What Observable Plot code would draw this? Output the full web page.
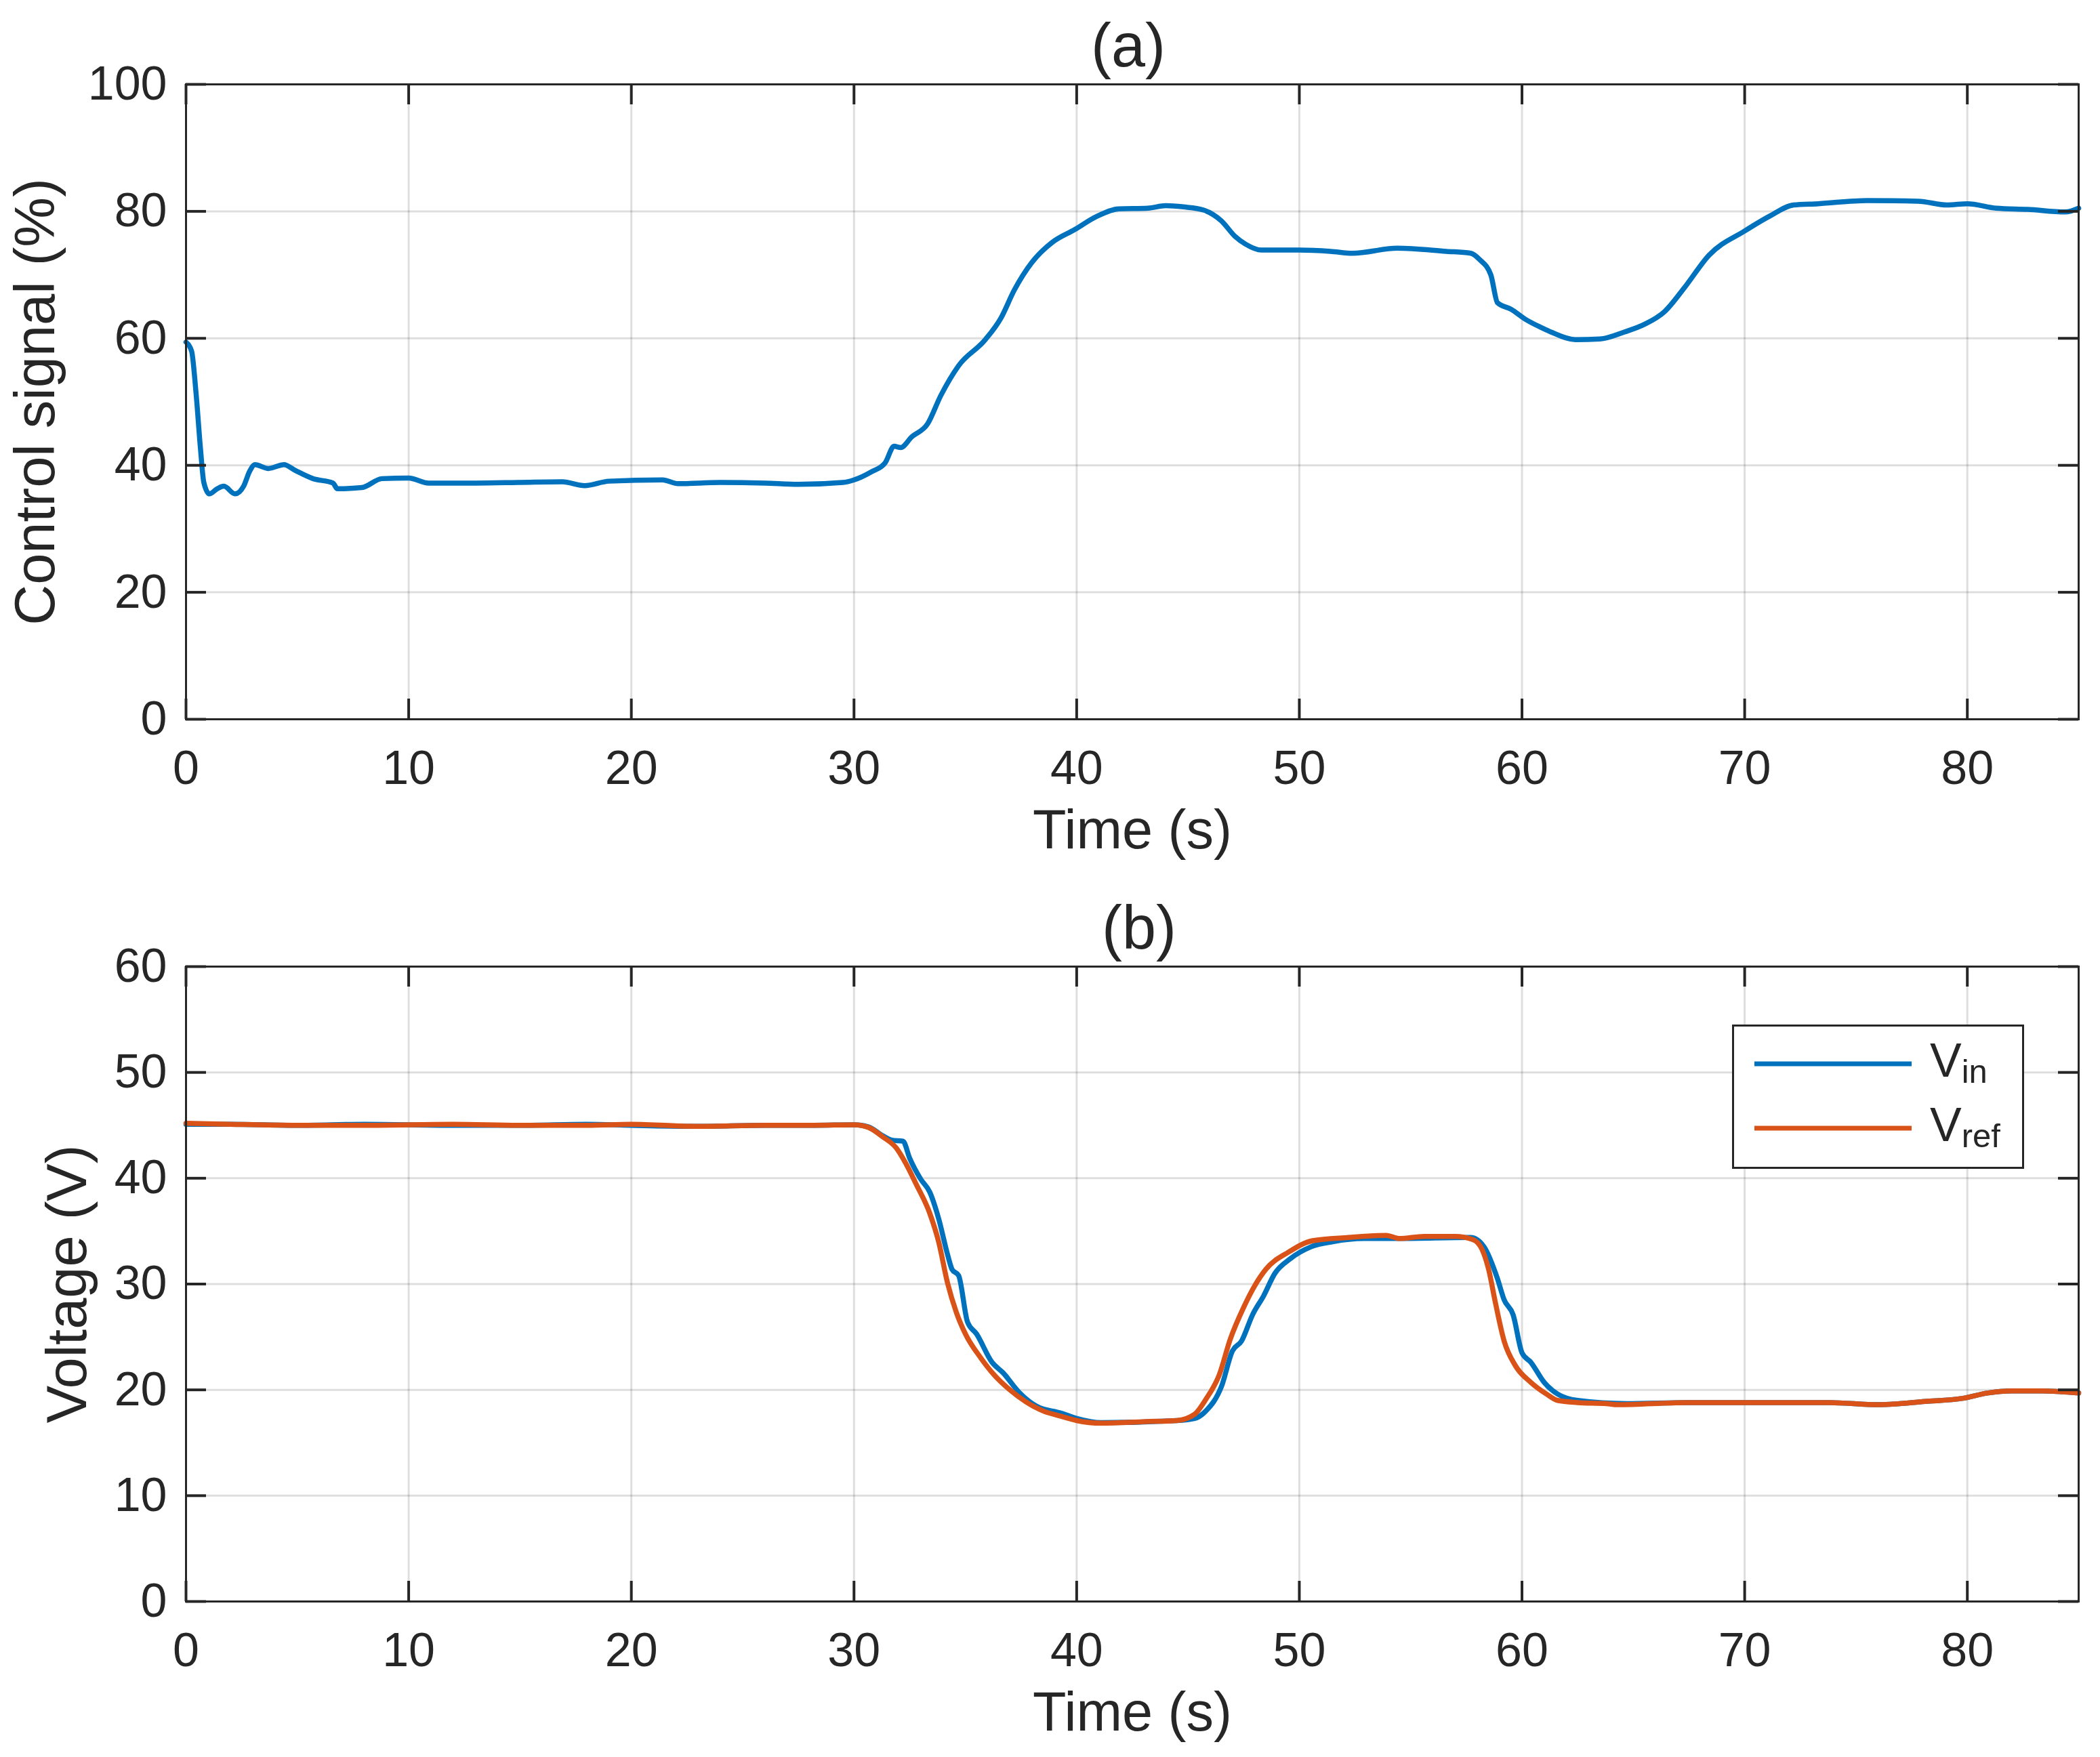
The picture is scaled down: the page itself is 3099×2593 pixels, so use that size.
<!DOCTYPE html>
<html><head><meta charset="utf-8">
<script src="https://cdn.jsdelivr.net/npm/d3@7"></script>
<script src="https://cdn.jsdelivr.net/npm/@observablehq/plot@0.6"></script>
<style>
html,body{margin:0;padding:0;background:#fff;}
#wrap{position:relative;width:3099px;height:2593px;overflow:hidden;background:#fff;font-family:"Liberation Sans",Arial,sans-serif;}
#pa,#pb{position:absolute;left:0;}
#pa{top:0;}
#pb{top:1300px;}
#legend{position:absolute;left:2556px;top:1512px;width:431px;height:213px;box-sizing:border-box;border:3px solid #262626;background:#fff;}
svg{display:block;}
</style></head><body>
<div id="wrap"><div id="pa"></div><div id="pb"></div><div id="legend"></div></div>
<script>
// ---- tick labels ----
const xTicks = [0, 10, 20, 30, 40, 50, 60, 70, 80];
const yTicksA = [0, 20, 40, 60, 80, 100];
const yTicksB = [0, 10, 20, 30, 40, 50, 60];

// ---- (a) control signal (%) : [time s, value] ----
const controlSignal = [
  [0,59.4],[0.25,58.0],[0.45,51.4],[0.65,42.6],[0.8,37.3],[1.05,35.5],[1.4,36.3],[1.7,36.7],[2.2,35.5],[2.6,36.8],
  [2.85,39.0],[3.1,40.1],[3.7,39.5],[4.4,40.1],[4.9,39.2],[5.7,37.9],[6.6,37.2],[6.8,36.3],[7.9,36.5],[8.8,37.9],
  [10,38.0],[10.9,37.2],[13,37.2],[15,37.3],[16.9,37.4],[17.9,36.8],[19,37.5],[21.4,37.7],[22.1,37.1],[24,37.3],
  [26,37.2],[27.5,37.0],[29.5,37.3],[30,37.7],[30.8,39.0],[31.4,40.4],[31.8,43.0],[32.1,42.8],[32.6,44.5],[33.3,46.5],
  [33.9,51.0],[34.7,55.7],[35.9,59.8],[36.6,63.2],[37.2,67.6],[38.0,72.0],[38.9,75.1],[39.9,77.1],[40.9,79.2],[41.9,80.4],
  [43.2,80.5],[44.0,80.9],[44.8,80.7],[45.7,80.2],[46.5,78.5],[47.1,76.1],[47.6,74.8],[48.3,73.9],[50,73.9],[51.4,73.7],
  [52.4,73.4],[54.4,74.2],[56.6,73.7],[57.7,73.4],[58.1,72.4],[58.6,70.0],[58.9,65.6],[59.5,64.6],[60.2,62.9],[60.8,61.8],
  [61.3,61.0],[62.4,59.8],[63.5,59.9],[64.6,61.0],[65.5,62.2],[66.4,64.2],[67.3,68.0],[68.4,73.1],[70.0,76.9],[71.1,79.2],
  [72.2,81.0],[73.3,81.2],[75.5,81.7],[77.8,81.6],[79.1,81.0],[80.0,81.2],[81.3,80.5],[82.7,80.3],[84.4,79.9],[85,80.5]
];

// ---- (b) voltages (V) : [time s, value] ----
const vin = [
  [0,45.1],[2,45.1],[5,45.0],[8,45.1],[12,45.0],[15,45.0],[18,45.1],[20,45.0],[23,44.9],[26,45.0],
  [28.2,45.0],[30,45.05],[30.65,44.85],[31.3,44.0],[31.7,43.6],[32.2,43.5],[32.5,41.9],[33.0,39.9],[33.4,38.7],[33.8,36.2],
  [34.2,32.8],[34.4,31.4],[34.7,30.8],[35.1,26.4],[35.5,25.3],[36.2,22.6],[36.7,21.6],[37.4,19.8],[38.2,18.45],[39.3,17.8],
  [40.0,17.3],[41.1,16.9],[44.5,17.1],[45.3,17.3],[45.8,18.0],[46.5,20.3],[47.0,23.7],[47.4,24.6],[47.9,27.1],[48.4,28.9],
  [48.9,31.0],[49.6,32.4],[50.5,33.5],[51.5,34.0],[52.9,34.3],[54.5,34.3],[57.7,34.4],[58.3,33.5],[58.9,30.5],[59.2,28.5],
  [59.6,27.1],[60.0,23.5],[60.4,22.6],[61.0,20.7],[61.6,19.6],[62.5,19.0],[64.7,18.7],[67.4,18.8],[70.6,18.8],[73.8,18.8],
  [76.0,18.6],[78.1,18.9],[79.8,19.2],[80.9,19.7],[82.0,19.9],[83.4,19.9],[85,19.7]
];
const vref = [
  [0,45.2],[2,45.1],[5,45.0],[8,45.0],[12,45.1],[15,45.0],[18,45.0],[20,45.1],[23,44.9],[26,45.0],
  [28.2,45.0],[30,45.05],[30.65,44.8],[31.3,43.9],[31.9,42.85],[32.3,41.5],[32.8,39.4],[33.4,36.7],[33.8,34.0],[34.2,30.1],
  [34.6,27.3],[35.0,25.3],[35.7,23.0],[36.3,21.4],[37.0,20.0],[37.7,18.9],[38.5,18.0],[39.3,17.5],[40.0,17.1],[41.1,16.85],
  [43.1,17.0],[44.5,17.1],[45.3,17.7],[45.8,19.1],[46.4,21.4],[46.9,24.8],[47.5,27.8],[48.0,29.85],[48.5,31.4],[49.5,33.0],
  [50.6,34.1],[52.2,34.4],[53.9,34.6],[54.5,34.3],[55.6,34.5],[57.0,34.5],[57.8,34.2],[58.2,33.3],[58.5,31.4],[58.8,28.3],
  [59.2,24.6],[59.7,22.3],[60.4,20.7],[61.1,19.6],[61.6,19.0],[62.5,18.8],[63.8,18.7],[64.3,18.6],[67.4,18.8],[70.6,18.8],
  [73.8,18.8],[76.0,18.6],[78.1,18.9],[79.8,19.2],[80.9,19.7],[82.0,19.9],[83.4,19.9],[85,19.7]
];

const BLUE = "#0072BD", ORANGE = "#D95319", INK = "#262626";
const legendItems = [
  {base: "V", sub: "in", color: BLUE},
  {base: "V", sub: "ref", color: ORANGE}
];

const W = 3099, ML = 274, MR = 32, TK = 30;
const FONT = '"Liberation Sans", Arial, Helvetica, sans-serif';

function panel({height, mt, mb, yDomain, yTicks, series, title, titleDx, yLabel, yLabelDx}) {
  const fw = W - ML - MR, fh = height - mt - mb;
  return Plot.plot({
    width: W, height,
    marginLeft: ML, marginRight: MR, marginTop: mt, marginBottom: mb,
    style: {fontFamily: FONT, color: INK, background: "#fff", overflow: "visible"},
    x: {domain: [0, 85]},
    y: {domain: yDomain},
    marks: [
      Plot.gridX(xTicks, {stroke: "#000", strokeOpacity: 0.13, strokeWidth: 3}),
      Plot.gridY(yTicks, {stroke: "#000", strokeOpacity: 0.13, strokeWidth: 3}),
      ...series.map(s => Plot.line(s.data, {x: d => d[0], y: d => d[1], stroke: s.color, strokeWidth: 7.5, curve: "monotone-x"})),
      Plot.tickX(xTicks, {x: d => d, insetTop: fh - TK, stroke: INK, strokeWidth: 4}),
      Plot.tickX(xTicks, {x: d => d, insetBottom: fh - TK, stroke: INK, strokeWidth: 4}),
      Plot.tickY(yTicks, {y: d => d, insetRight: fw - TK, stroke: INK, strokeWidth: 4}),
      Plot.tickY(yTicks, {y: d => d, insetLeft: fw - TK, stroke: INK, strokeWidth: 4}),
      Plot.frame({stroke: INK, strokeWidth: 3}),
      Plot.axisX({ticks: xTicks, tickSize: 0, tickPadding: 46, fontSize: 70, label: null}),
      Plot.axisY({ticks: yTicks, tickSize: 0, tickPadding: 28, fontSize: 70, label: null}),
      Plot.text([title], {text: d => d, frameAnchor: "top", dx: titleDx, dy: -27, lineAnchor: "bottom", textAnchor: "middle", fontSize: 90, fill: INK}),
      Plot.text(["Time (s)"], {text: d => d, frameAnchor: "bottom", dy: 133, lineAnchor: "top", textAnchor: "middle", fontSize: 81, fill: INK}),
      Plot.text([yLabel], {text: d => d, frameAnchor: "left", dx: yLabelDx, rotate: -90, lineAnchor: "middle", textAnchor: "middle", fontSize: 83, fill: INK})
    ]
  });
}

document.getElementById("pa").appendChild(panel({
  height: 1300, mt: 124, mb: 239, yDomain: [0, 100], yTicks: yTicksA,
  series: [{data: controlSignal, color: BLUE}],
  title: "(a)", titleDx: -6, yLabel: "Control signal (%)", yLabelDx: -221
}));
document.getElementById("pb").appendChild(panel({
  height: 1293, mt: 126, mb: 230, yDomain: [0, 60], yTicks: yTicksB,
  series: [{data: vin, color: BLUE}, {data: vref, color: ORANGE}],
  title: "(b)", titleDx: 10, yLabel: "Voltage (V)", yLabelDx: -174
}));

// legend (inside panel b)
const ns = "http://www.w3.org/2000/svg";
const lg = document.createElementNS(ns, "svg");
lg.setAttribute("width", 425); lg.setAttribute("height", 207);
lg.style.fontFamily = FONT;
legendItems.forEach((it, i) => {
  const cy = 55 + i * 95;
  const ln = document.createElementNS(ns, "line");
  ln.setAttribute("x1", 30); ln.setAttribute("x2", 262);
  ln.setAttribute("y1", cy); ln.setAttribute("y2", cy);
  ln.setAttribute("stroke", it.color); ln.setAttribute("stroke-width", 7);
  lg.appendChild(ln);
  const t = document.createElementNS(ns, "text");
  t.setAttribute("x", 289); t.setAttribute("y", cy + 19);
  t.setAttribute("font-size", 70); t.setAttribute("fill", INK);
  t.textContent = it.base;
  const sub = document.createElementNS(ns, "tspan");
  sub.setAttribute("font-size", 49); sub.setAttribute("dy", 9);
  sub.textContent = it.sub;
  t.appendChild(sub);
  lg.appendChild(t);
});
document.getElementById("legend").appendChild(lg);
</script>
</body></html>
